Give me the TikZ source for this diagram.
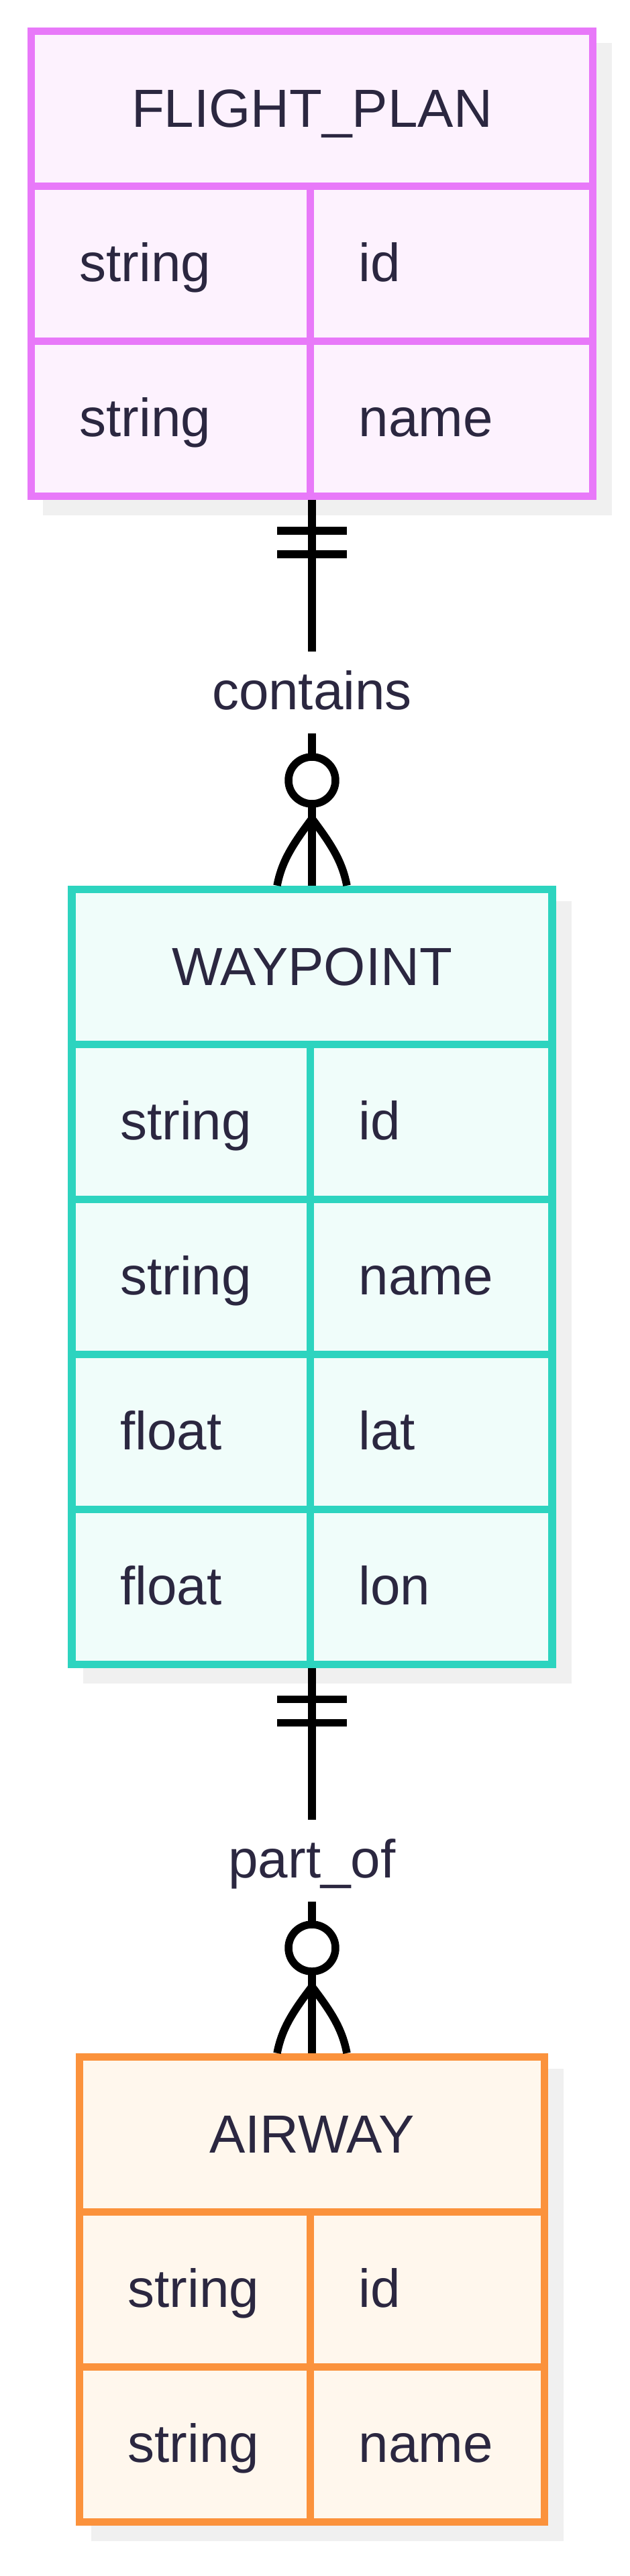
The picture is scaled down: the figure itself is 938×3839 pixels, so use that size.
\documentclass[tikz,border=0pt]{standalone}
\usepackage{fontspec}
\setmainfont{Liberation Sans}

\definecolor{ertext}{RGB}{43,39,64}
\definecolor{planline}{RGB}{232,121,249}
\definecolor{planfill}{RGB}{253,242,254}
\definecolor{wayline}{RGB}{45,212,191}
\definecolor{wayfill}{RGB}{240,253,250}
\definecolor{airline}{RGB}{251,146,60}
\definecolor{airfill}{RGB}{255,247,237}
\definecolor{shadowgray}{RGB}{240,240,240}
\newcommand{\erfont}{\fontsize{80pt}{96pt}\selectfont}

\tikzset{
  entity/.style={draw, rectangle, line width=11.7pt, inner sep=0pt},
  rowline/.style={line width=11.7pt},
  rel/.style={draw=black, line width=11.5pt, line join=round},
  cell/.style={anchor=base west, inner sep=0pt, font=\erfont, text=ertext},
  hdr/.style={anchor=base, inner sep=0pt, font=\erfont, text=ertext},
  rellabel/.style={inner xsep=0pt, inner ysep=36pt, text height=50pt, text depth=0pt, font=\erfont, text=ertext}
}

\begin{document}
\begin{tikzpicture}[x=1pt,y=-1pt]
\useasboundingbox (0,0) rectangle (938,3839);
% the shadows
\fill[shadowgray] (63.75,63.75) rectangle (912.25,768.25);
\fill[shadowgray] (124.25,1342.75) rectangle (851.75,2509.25);
\fill[shadowgray] (135.75,3082.75) rectangle (840.25,3787.25);

%% FLIGHT_PLAN
\node[entity, draw=planline, fill=planfill, minimum width=837pt, minimum height=693pt] (fp) at (465,393) {};
\draw[rowline, planline] (46.5,277.5) -- (883.5,277.5);
\draw[rowline, planline] (46.5,508.5) -- (883.5,508.5);
\draw[rowline, planline] (462.5,277.5) -- (462.5,739.5);
\node[hdr] (fp-head) at (465,189.5) {FLIGHT\_PLAN};
\node[cell] (fp-t1) at (118.5,419.5) {string};
\node[cell] (fp-n1) at (534.5,419.5) {id};
\node[cell] (fp-t2) at (118.5,650.5) {string};
\node[cell] (fp-n2) at (534.5,650.5) {name};

%% WAYPOINT
\node[entity, draw=wayline, fill=wayfill, minimum width=716pt, minimum height=1155pt] (wp) at (465,1903) {};
\draw[rowline, wayline] (107,1556.5) -- (823,1556.5);
\draw[rowline, wayline] (107,1787.5) -- (823,1787.5);
\draw[rowline, wayline] (107,2018.5) -- (823,2018.5);
\draw[rowline, wayline] (107,2249.5) -- (823,2249.5);
\draw[rowline, wayline] (462.5,1556.5) -- (462.5,2480.5);
\node[hdr] (wp-head) at (465,1468.5) {WAYPOINT};
\node[cell] (wp-t1) at (179,1698.5) {string};
\node[cell] (wp-n1) at (534.5,1698.5) {id};
\node[cell] (wp-t2) at (179,1929.5) {string};
\node[cell] (wp-n2) at (534.5,1929.5) {name};
\node[cell] (wp-t3) at (179,2160.5) {float};
\node[cell] (wp-n3) at (534.5,2160.5) {lat};
\node[cell] (wp-t4) at (179,2391.5) {float};
\node[cell] (wp-n4) at (534.5,2391.5) {lon};

%% AIRWAY
\node[entity, draw=airline, fill=airfill, minimum width=693pt, minimum height=693pt] (aw) at (465,3412) {};
\draw[rowline, airline] (118.5,3296.5) -- (811.5,3296.5);
\draw[rowline, airline] (118.5,3527.5) -- (811.5,3527.5);
\draw[rowline, airline] (462.5,3296.5) -- (462.5,3758.5);
\node[hdr] (aw-head) at (465,3208.5) {AIRWAY};
\node[cell] (aw-t1) at (190.5,3438.5) {string};
\node[cell] (aw-n1) at (534.5,3438.5) {id};
\node[cell] (aw-t2) at (190.5,3669.5) {string};
\node[cell] (aw-n2) at (534.5,3669.5) {name};

%% contains
\node[rellabel] (contains) at (465,1032) {contains};
\draw[rel] (fp.south) -- (contains.north);
\draw[rel] (contains.south) -- (wp.north);
\draw[rel] (413,791) -- (517,791);
\draw[rel] (413,826) -- (517,826);
\draw[rel, fill=white] (465,1163) circle (35pt);
\draw[rel] (413,1319.75) .. controls (420,1284) and (435,1260) .. (465,1220) .. controls (495,1260) and (510,1284) .. (517,1319.75);

%% part_of
\node[rellabel] (partof) at (465,2773) {part\_of};
\draw[rel] (wp.south) -- (partof.north);
\draw[rel] (partof.south) -- (aw.north);
\draw[rel] (413,2532.5) -- (517,2532.5);
\draw[rel] (413,2567.5) -- (517,2567.5);
\draw[rel, fill=white] (465,2903) circle (35pt);
\draw[rel] (413,3059.75) .. controls (420,3024) and (435,3000) .. (465,2960.5) .. controls (495,3000) and (510,3024) .. (517,3059.75);
\end{tikzpicture}
\end{document}
